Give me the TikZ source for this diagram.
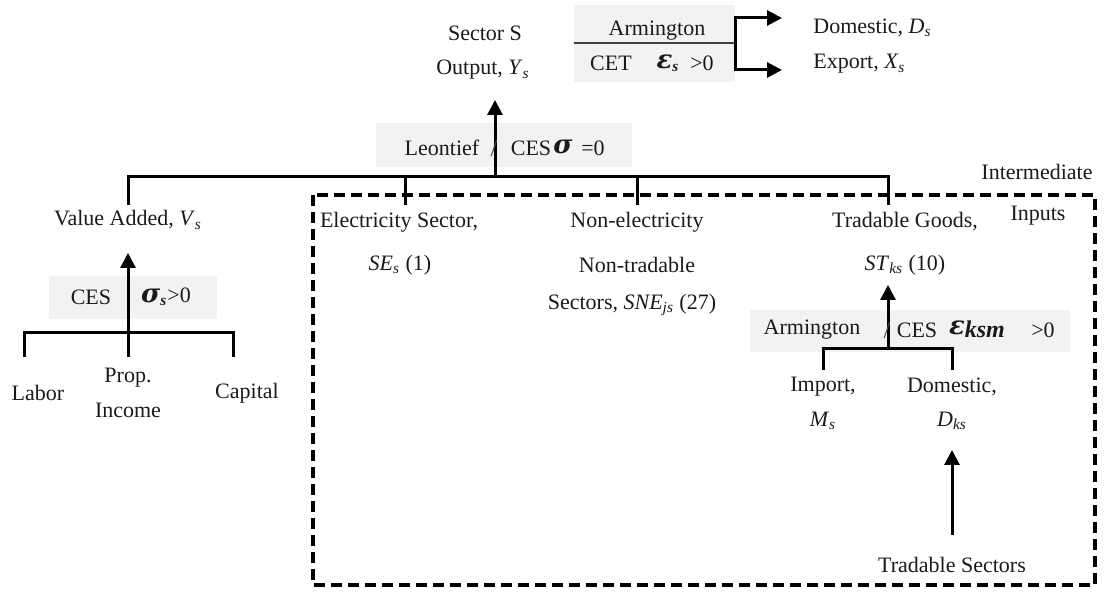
\documentclass[tikz,border=0pt]{standalone}
\usepackage{fontspec}
\setmainfont{Liberation Serif}
\newfontfamily\grkfont{DejaVu Serif}
\usetikzlibrary{arrows.meta}
\definecolor{boxgray}{HTML}{F2F2F2}
\definecolor{txt}{HTML}{1A1A1A}
\definecolor{midline}{HTML}{3F3F3F}
\newcommand{\sbs}[1]{\textsubscript{\itshape #1}}
\newcommand{\gk}[1]{{\grkfont\fontsize{13}{13}\selectfont\bfseries\itshape #1}}
\tikzset{
  lbl/.style={font=\fontsize{11}{13}\selectfont, text=txt, inner sep=0pt},
  ln/.style={line width=1.5pt, draw=black},
  arr/.style={ln, -{Triangle[length=7.5pt,width=7.5pt]}},
  dashbox/.style={line width=1.6pt, dash pattern=on 5.5pt off 3pt},
  grayfill/.style={fill=boxgray, draw=none},
  slash/.style={lbl, font=\fontsize{12}{13}\selectfont, text=black!70},
}
\begin{document}
\begin{tikzpicture}[x=0.5pt,y=-0.5pt]
\useasboundingbox (0,0) rectangle (1105,592);

% ---------- gray backgrounds ----------
\path[grayfill] (574,5) rectangle (735,82);
\path[grayfill] (376,123) rectangle (632,167);
\path[grayfill] (49,276) rectangle (217,319);
\path[grayfill] (750,310) rectangle (1070,352);

% ---------- top: sector output ----------
\node[lbl] (sector) at (485,33) {Sector S};
\node[lbl] (output) at (483,70) {Output, \textit{Y}\sbs{s}};
\node[lbl] (arm) at (657,31) {Armington};
\node[lbl] (cet) at (611,63) {CET};
\node[lbl] (eps) at (668,63) {\gk{ε}\textsubscript{\bfseries\itshape s}};
\node[lbl] (cetgt) at (702,63) {>0};
\node[lbl, anchor=west] (dom) at (813,28) {Domestic, \textit{D}\sbs{s}};
\node[lbl, anchor=west] (exp) at (813,64) {Export, \textit{X}\sbs{s}};

\coordinate (cetl) at (574,43);
\coordinate (cetr) at (735,43);
\coordinate (domtip) at (782,18);
\coordinate (exptip) at (782,70);
\draw[line width=1.3pt, draw=midline] (cetl) -- (cetr);
\draw[arr] (cetr) |- (domtip);
\draw[arr] (cetr) |- (exptip);

% ---------- Leontief ----------
\node[lbl] (leon) at (442,148) {Leontief};
\node[lbl] (leonces) at (531,148) {CES};
\node[lbl] (leonsig) at (563,147) {\gk{σ}};
\node[lbl] (leoneq) at (593,148) {=0};

\coordinate (jtop) at (495,177);
\coordinate (otip) at (495,100);
\coordinate (b1) at (128,205);
\coordinate (b2) at (405,205);
\coordinate (b3) at (637,205);
\coordinate (b4) at (888,205);
\draw[ln] (b1) -- (b1 |- jtop) -| (b4);
\draw[ln] (b2) -- (b2 |- jtop);
\draw[ln] (b3) -- (b3 |- jtop);
\draw[arr] (jtop) -- (otip);
\node[slash] (leonsl) at (494,149) {/};

% ---------- value added ----------
\node[lbl] (va) at (128,220) {Value Added, \textit{V}\sbs{s}};
\node[lbl] (vaces) at (91,297) {CES};
\node[lbl] (vasig) at (166,297) {\gk{σ}\textsubscript{\bfseries\itshape s}>0};
\coordinate (vaj) at (128,333);
\coordinate (vatip) at (128,253);
\coordinate (lab) at (24,357);
\coordinate (prop) at (128,357);
\coordinate (cap) at (233,357);
\draw[ln] (lab) |- (vaj) -| (cap);
\draw[ln] (prop) -- (vaj);
\draw[arr] (vaj) -- (vatip);
\node[lbl] (labor) at (38,393) {Labor};
\node[lbl] (propi) at (128,378) {Prop.};
\node[lbl] (income) at (128,410) {Income};
\node[lbl] (capital) at (247,393) {Capital};

% ---------- intermediate inputs ----------
\draw[dashbox] (313,195) rectangle (1095,585);
\node[lbl] (inter) at (1037,172) {Intermediate};
\node[lbl] (inputs) at (1038,216) {Inputs};

\node[lbl] (elec) at (399,222) {Electricity Sector,};
\node[lbl] (se) at (400,265) {\textit{SE}\sbs{s} (1)};
\node[lbl] (nonel) at (637,222) {Non-electricity};
\node[lbl] (nontr) at (637,265) {Non-tradable};
\node[lbl] (sne) at (632,305) {Sectors, \textit{SNE}\sbs{js} (27)};
\node[lbl] (trad) at (905,222) {Tradable Goods,};
\node[lbl] (st) at (905,265) {\textit{ST}\sbs{ks} (10)};

\node[lbl] (arm2) at (812,330) {Armington};
\node[lbl] (arm2ces) at (917,330) {CES};
\node[lbl] (arm2eps) at (977,329) {\gk{ε}{\fontsize{12}{12}\selectfont\bfseries\itshape\raisebox{-0.3ex}{ksm}}};
\node[lbl] (arm2gt) at (1043,330) {>0};

\coordinate (tj) at (888,349);
\coordinate (ttip) at (888,285);
\coordinate (imp) at (823,370);
\coordinate (domk) at (952,370);
\draw[ln] (imp) |- (tj) -| (domk);
\draw[arr] (tj) -- (ttip);
\node[slash] (arm2sl) at (887,331) {/};
\node[lbl] (import) at (823,387) {Import,};
\node[lbl] (ms) at (823,421) {\textit{M}\sbs{s}};
\node[lbl] (dom2) at (952,387) {Domestic,};
\node[lbl] (dks) at (952,421) {\textit{D}\sbs{ks}};
\node[lbl] (tsec) at (952,565) {Tradable Sectors};
\coordinate (tsectop) at (952,535);
\coordinate (dkstip) at (952,450);
\draw[arr] (tsectop) -- (dkstip);
\end{tikzpicture}
\end{document}
